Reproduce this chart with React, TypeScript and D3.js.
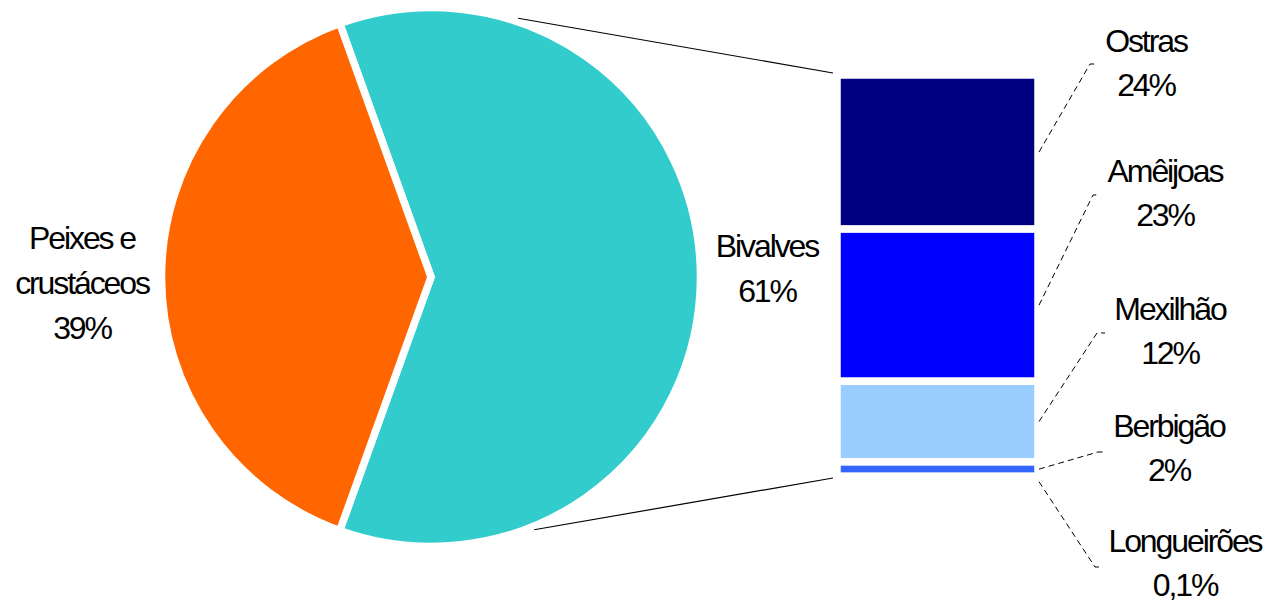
import React from "react";
import * as d3 from "d3";

// ---- data ----
const pieCategories = ["Bivalves", "Peixes e crustáceos"];
const pieValues = [61, 39];
const pieColors = ["#33CCCC", "#FF6600"];
const pieLabelLines = [["Bivalves"], ["Peixes e", "crustáceos"]];

const barCategories = ["Ostras", "Amêijoas", "Mexilhão", "Berbigão", "Longueirões"];
const barValues = [23.5, 23.2, 12.3, 2.2, 0.1];
const barColors = ["#000080", "#0000FF", "#99CCFF", "#3366FF", "#00CCFF"];

// ---- layout ----
const W = 1265;
const H = 602;
const cx = 431;
const cy = 277;
const R = 269.5;
const STROKE = 7.5;
const barX0 = 837;
const barX1 = 1038;
const barTop = 75;
const barBottom = 477;
const FONT = "'Liberation Sans', Arial, sans-serif";
const FS = 32;
const LS = -2.1;
const LH = 45;

// label anchor (centre x, first baseline) for pie labels
const pieLabelPos = [
  { x: 767, y: 257 },
  { x: 82, y: 249 },
];
// bar labels: centre x, first baseline, elbow point, elbow end x
const barLabelPos = [
  { x: 1146, y: 52, ex: 1090, ey: 64, ee: 1097 },
  { x: 1165, y: 182, ex: 1093, ey: 195, ee: 1099 },
  { x: 1170, y: 320, ex: 1097, ey: 333, ee: 1105 },
  { x: 1169, y: 437, ex: 1098, ey: 452, ee: 1105 },
  { x: 1185, y: 552, ex: 1095, ey: 567, ee: 1103 },
];
const connectorAngles = [18.6, 157.8]; // degrees clockwise from 12 o'clock
const connectorR = 273;

const fmt = (v: number) =>
  v >= 1 ? `${Math.round(v)}%` : `${String(v).replace(".", ",")}%`;

export default function App() {
  const total = d3.sum(pieValues);
  const firstShare = pieValues[0] / total;
  const pie = d3
    .pie<number>()
    .sort(null)
    .startAngle(Math.PI / 2 - firstShare * Math.PI)
    .endAngle(Math.PI / 2 - firstShare * Math.PI + 2 * Math.PI);
  const arcs = pie(pieValues);
  const arcGen = d3.arc<d3.PieArcDatum<number>>().innerRadius(0).outerRadius(R);

  const barSum = d3.sum(barValues);
  const y = d3.scaleLinear().domain([0, barSum]).range([barTop, barBottom]);
  const cum = barValues.map((_, i) => d3.sum(barValues.slice(0, i)));

  const pt = (deg: number, r: number) => {
    const a = (deg * Math.PI) / 180;
    return [cx + r * Math.sin(a), cy - r * Math.cos(a)];
  };
  const c0 = pt(connectorAngles[0], connectorR);
  const c1 = pt(connectorAngles[1], connectorR);

  return (
    <svg
      width={W}
      height={H}
      style={{ position: "absolute", left: 0, top: 0, display: "block", background: "#fff" }}
      fontFamily={FONT}
    >
      <rect width={W} height={H} fill="#fff" />
      <g transform={`translate(${cx},${cy})`}>
        {arcs.map((a, i) => (
          <path
            key={pieCategories[i]}
            d={arcGen(a) || ""}
            fill={pieColors[i]}
            stroke="#fff"
            strokeWidth={STROKE}
            strokeLinejoin="miter"
          />
        ))}
      </g>

      {/* connector lines */}
      <line x1={c0[0]} y1={c0[1]} x2={barX0 - 4} y2={barTop - 2} stroke="#000" strokeWidth={1.2} />
      <line x1={c1[0]} y1={c1[1]} x2={barX0 - 4} y2={barBottom + 1} stroke="#000" strokeWidth={1.2} />

      {/* bar of pie */}
      {barValues.map((v, i) => (
        <rect
          key={barCategories[i]}
          x={barX0}
          y={y(cum[i])}
          width={barX1 - barX0}
          height={y(cum[i] + v) - y(cum[i])}
          fill={barColors[i]}
          stroke="#fff"
          strokeWidth={STROKE}
        />
      ))}

      {/* leader lines */}
      {barValues.map((v, i) => {
        const p = barLabelPos[i];
        const ym = (y(cum[i]) + y(cum[i] + v)) / 2;
        const sy = i === barValues.length - 1 ? ym + 5 : ym;
        return (
          <polyline
            key={`l${i}`}
            points={`${barX1 + 1},${sy} ${p.ex},${p.ey} ${p.ee},${p.ey}`}
            fill="none"
            stroke="#000"
            strokeWidth={1}
            strokeDasharray="6,4"
          />
        );
      })}

      {/* pie labels */}
      {pieValues.map((v, i) => {
        const p = pieLabelPos[i];
        const lines = [...pieLabelLines[i], fmt(v)];
        return (
          <text key={`pt${i}`} x={p.x} y={p.y} textAnchor="middle" fontSize={FS} letterSpacing={LS} fill="#000">
            {lines.map((t, j) => (
              <tspan key={j} x={p.x} y={p.y + j * LH}>
                {t}
              </tspan>
            ))}
          </text>
        );
      })}

      {/* bar labels */}
      {barValues.map((v, i) => {
        const p = barLabelPos[i];
        const lines = [barCategories[i], fmt(v)];
        return (
          <text key={`bt${i}`} x={p.x} y={p.y} textAnchor="middle" fontSize={FS} letterSpacing={LS} fill="#000">
            {lines.map((t, j) => (
              <tspan key={j} x={p.x} y={p.y + j * (LH - 1)}>
                {t}
              </tspan>
            ))}
          </text>
        );
      })}
    </svg>
  );
}
